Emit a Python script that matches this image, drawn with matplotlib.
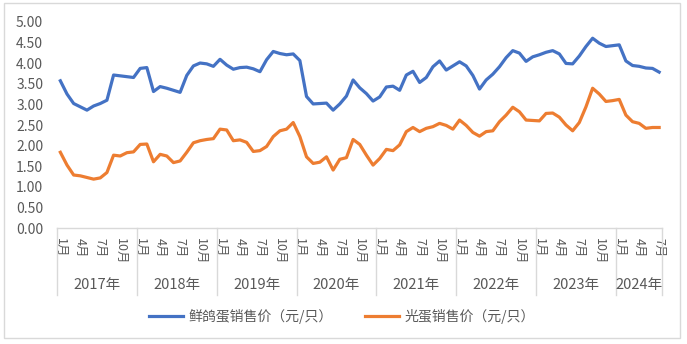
import matplotlib
matplotlib.use("Agg")
import matplotlib.pyplot as plt
import matplotlib.transforms as mtransforms
from matplotlib.lines import Line2D
from matplotlib.patches import Rectangle

plt.rcParams['font.family'] = ['Noto Sans CJK SC', 'DejaVu Sans']

# years shown and number of months per year
years = ["2017年", "2018年", "2019年", "2020年", "2021年", "2022年", "2023年", "2024年"]
months_per_year = [12, 12, 12, 12, 12, 12, 12, 7]
tick_months = [1, 4, 7, 10]

# 鲜鸽蛋销售价 (yuan per egg), monthly
pigeon_egg = [
    3.57, 3.25, 3.02, 2.94, 2.86, 2.96, 3.02, 3.10, 3.71, 3.69, 3.67, 3.65,
    3.87, 3.89, 3.31, 3.43, 3.39, 3.34, 3.29, 3.70, 3.93, 4.00, 3.98, 3.92,
    4.09, 3.95, 3.85, 3.89, 3.90, 3.86, 3.79, 4.08, 4.28, 4.23, 4.20, 4.22,
    4.06, 3.19, 3.01, 3.02, 3.03, 2.86, 3.01, 3.20, 3.59, 3.40, 3.26, 3.08,
    3.18, 3.42, 3.44, 3.34, 3.71, 3.80, 3.53, 3.65, 3.91, 4.05, 3.83, 3.93,
    4.03, 3.93, 3.70, 3.37, 3.59, 3.73, 3.91, 4.13, 4.30, 4.24, 4.04, 4.15,
    4.20, 4.26, 4.30, 4.22, 3.99, 3.98, 4.17, 4.40, 4.60, 4.48, 4.40, 4.42,
    4.44, 4.05, 3.94, 3.92, 3.88, 3.87, 3.78,
]

# 光蛋销售价 (yuan per egg), monthly
clear_egg = [
    1.84, 1.53, 1.29, 1.27, 1.23, 1.19, 1.22, 1.35, 1.77, 1.75, 1.83, 1.85,
    2.03, 2.04, 1.61, 1.79, 1.75, 1.59, 1.63, 1.84, 2.07, 2.12, 2.15, 2.17,
    2.40, 2.38, 2.12, 2.14, 2.08, 1.86, 1.88, 1.98, 2.22, 2.36, 2.40, 2.56,
    2.22, 1.73, 1.57, 1.60, 1.73, 1.41, 1.67, 1.71, 2.15, 2.03, 1.77, 1.53,
    1.69, 1.91, 1.88, 2.02, 2.34, 2.44, 2.34, 2.42, 2.46, 2.54, 2.49, 2.40,
    2.62, 2.49, 2.32, 2.23, 2.34, 2.36, 2.58, 2.74, 2.93, 2.82, 2.62, 2.61,
    2.60, 2.78, 2.79, 2.69, 2.50, 2.36, 2.56, 2.94, 3.39, 3.25, 3.07, 3.09,
    3.12, 2.74, 2.58, 2.54, 2.42, 2.44, 2.44,
]

labels = ["鲜鸽蛋销售价（元/只）", "光蛋销售价（元/只）"]
colors = ["#4472C4", "#ED7D31"]
grey_text = "#595959"
grey_line = "#D9D9D9"

fig = plt.figure(figsize=(6.87, 3.44), dpi=100)
ax = fig.add_axes([0.083, 0.3363, 0.8813, 0.6006])

x = list(range(len(pigeon_egg)))
ax.plot(x, pigeon_egg, color=colors[0], lw=2.3, solid_joinstyle="round")
ax.plot(x, clear_egg, color=colors[1], lw=2.3, solid_joinstyle="round")

ax.set_xlim(-0.5, len(x) - 0.5)
ax.set_ylim(0, 5)
ax.set_yticks([i * 0.5 for i in range(11)])
ax.set_yticklabels([f"{i * 0.5:.2f}" for i in range(11)], fontsize=10, color=grey_text)
ax.tick_params(axis="y", length=0, pad=10)

# month ticks (1月 4月 7月 10月 in every year)
tick_pos, tick_lab = [], []
start = 0
for n in months_per_year:
    for m in range(1, n + 1):
        if m in tick_months:
            tick_pos.append(start + m - 1)
            tick_lab.append(f"{m}月")
    start += n
ax.set_xticks(tick_pos)
ax.set_xticklabels(tick_lab, rotation=270, fontsize=9, color=grey_text,
                   va="top", ha="center")
ax.tick_params(axis="x", length=0, pad=7)

for side in ["left", "right", "top"]:
    ax.spines[side].set_visible(False)
ax.spines["bottom"].set_color(grey_line)
ax.spines["bottom"].set_linewidth(1)

# year groups below month labels
trans = mtransforms.blended_transform_factory(ax.transData, ax.transAxes)
start = 0
bounds = [-0.5]
for yr, n in zip(years, months_per_year):
    ax.text(start + (n - 1) / 2, -0.274, yr, transform=trans, ha="center",
            va="center", fontsize=10.5, color=grey_text)
    start += n
    bounds.append(start - 0.5)
for b in bounds:
    ax.plot([b, b], [0, -0.323], transform=trans, color=grey_line, lw=1,
            clip_on=False)

handles = [Line2D([], [], color=c, lw=2.3) for c in colors]
fig.legend(handles, labels, loc="center", bbox_to_anchor=(0.498, 0.079),
           ncol=2, frameon=False, fontsize=10, handlelength=2.45,
           handletextpad=0.4, columnspacing=2.3, labelcolor=grey_text)

fig.patches.append(Rectangle((4 / 687, 1 - 338 / 344), 676 / 687, 335 / 344,
                             transform=fig.transFigure, fill=False,
                             edgecolor=grey_line, lw=1))

fig.savefig("out.png", dpi=100)
